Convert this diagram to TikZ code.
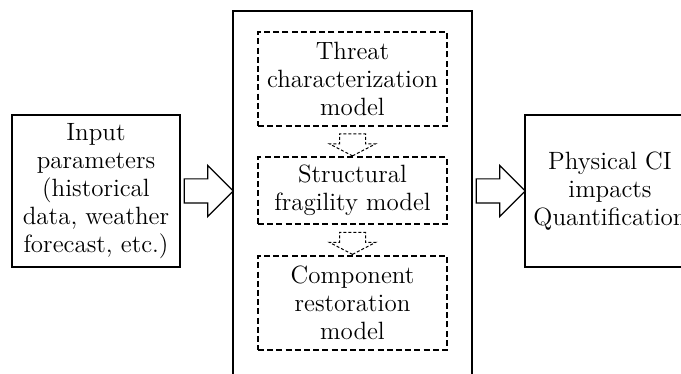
\documentclass[tikz,border=0pt]{standalone}
\usetikzlibrary{shapes.arrows,calc,positioning}

\begin{document}
\begin{tikzpicture}[x=0.5pt,y=-0.5pt,thick,
  every node/.style={font=\fontsize{12.5}{14}\selectfont,align=center},
  plain box/.style={draw,line width=0.7pt,inner sep=0pt,minimum width=84pt,minimum height=76pt},
  model box/.style={draw,dashed,line width=0.6pt,dash pattern=on 3pt off 1.6pt,inner sep=0pt,minimum width=94.5pt},
  big arrow/.style={single arrow,draw,line width=0.6pt,inner xsep=0pt,inner ysep=5.75pt,
    minimum height=24.5pt,single arrow head extend=6.75pt,single arrow tip angle=90},
  small arrow/.style={single arrow,draw,line width=0.5pt,dash pattern=on 1.5pt off 1pt,inner xsep=0pt,
    inner ysep=6.25pt,minimum height=11pt,single arrow head extend=5pt,single arrow tip angle=125,
    rotate=-90}]

  \useasboundingbox (0,0) rectangle (681,374);

  % outer blocks
  \node[plain box] (input) at (96,191) {Input\\parameters\\(historical\\data, weather\\forecast, etc.)};
  \node[draw,line width=0.7pt,minimum width=119.5pt,minimum height=194.5pt] (frame) at (352.5,205.5) {};
  \node[plain box,minimum width=85pt] (impacts) at (610,191) {Physical CI\\impacts\\Quantification};

  % models inside the frame
  \node[model box,minimum height=47pt] (threat) at (352.5,79) {Threat\\characterization\\model};
  \node[model box,minimum height=33.5pt] (fragility) at (352.5,190.5) {Structural\\fragility model};
  \node[model box,minimum height=47pt] (restoration) at (352.5,303) {Component\\restoration\\model};

  % block arrows
  \node[big arrow,anchor=tail] (toframe) at ([xshift=1.5pt]input.east) {};
  \node[big arrow,anchor=tail] (toimpacts) at ([xshift=1.5pt]frame.east |- impacts.west) {};
  \node[small arrow] (tofragility) at ($(threat.south)!0.5!(fragility.north)$) {};
  \node[small arrow] (torestoration) at ($(fragility.south)!0.5!(restoration.north)$) {};
\end{tikzpicture}
\end{document}
